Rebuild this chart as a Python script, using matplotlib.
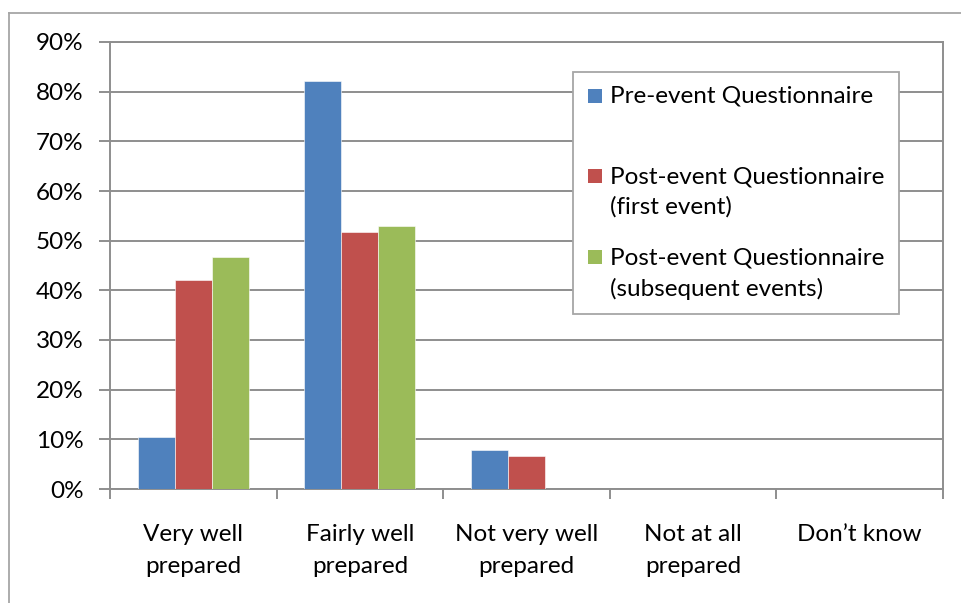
import matplotlib
matplotlib.use("Agg")
import matplotlib.pyplot as plt
from matplotlib.patches import Rectangle
from matplotlib.lines import Line2D
import numpy as np

# data
categories = ["Very well\nprepared", "Fairly well\nprepared", "Not very well\nprepared",
              "Not at all\nprepared", "Don\u2019t know"]
pre_event = [10.4, 82.1, 7.9, 0, 0]
post_first = [42.0, 51.7, 6.6, 0, 0]
post_subsequent = [46.8, 52.9, 0, 0, 0]
series_names = ["Pre-event Questionnaire",
                "Post-event Questionnaire\n(first event)",
                "Post-event Questionnaire\n(subsequent events)"]
series_colors = ["#4F81BD", "#C0504D", "#9BBB59"]
y_ticks = [0, 10, 20, 30, 40, 50, 60, 70, 80, 90]

W, H = 962, 603
plt.rcParams['font.family'] = ['Lato', 'DejaVu Sans']
grid_col = "#8E8E8E"
fs = 17.5

fig = plt.figure(figsize=(W / 100, H / 100), dpi=100)

def fx(px):
    return px / W

def fy(py):
    return 1 - py / H

ax = fig.add_axes([fx(110), fy(489), fx(943) - fx(110), fy(42) - fy(489)])

x = np.arange(len(categories))
bw = 1 / 4.5
for i, vals in enumerate([pre_event, post_first, post_subsequent]):
    ax.bar(x + (i - 1) * bw, vals, width=bw, color=series_colors[i],
           edgecolor="white", linewidth=0.4, zorder=3)

ax.set_xlim(-0.5, len(categories) - 0.5)
ax.set_ylim(0, 90)
ax.set_yticks(y_ticks)
ax.set_yticklabels([f"{v}%" for v in y_ticks], fontsize=fs)
ax.yaxis.grid(True, color=grid_col, linewidth=1.4, zorder=0)

# category labels centered, ticks at category boundaries
ax.set_xticks(x)
ax.set_xticklabels(categories, fontsize=fs, linespacing=1.65)
ax.tick_params(axis="x", length=0, pad=25)
ax.set_xticks(np.arange(len(categories) + 1) - 0.5, minor=True)
ax.tick_params(axis="x", which="minor", length=7, width=1.4, color=grid_col)
ax.tick_params(axis="y", length=8, width=1.4, color=grid_col, pad=11)

for s in ax.spines.values():
    s.set_color(grid_col)
    s.set_linewidth(1.4)

# outer chart-area border (only top and left visible in the crop)
fig.add_artist(Line2D([fx(9), 1], [fy(13), fy(13)], color="#A6A6A6", linewidth=1.3))
fig.add_artist(Line2D([fx(9), fx(9)], [fy(13), 0], color="#A6A6A6", linewidth=1.3))

# legend box drawn like the Excel one
fig.add_artist(Rectangle((fx(573), fy(314)), fx(899) - fx(573), fy(72) - fy(314),
                         transform=fig.transFigure, facecolor="white",
                         edgecolor="#A6A6A6", linewidth=1.3, zorder=5))
marker_y = [96, 176, 257.5]
for name, col, my in zip(series_names, series_colors, marker_y):
    fig.add_artist(Rectangle((fx(588), fy(my + 7)), fx(14), fx(14) * W / H,
                             transform=fig.transFigure, facecolor=col,
                             edgecolor="none", zorder=6))
    fig.text(fx(610), fy(my - 10), name, fontsize=fs, va="top", ha="left",
             linespacing=1.5, zorder=6)

fig.savefig("out.png", dpi=100)
